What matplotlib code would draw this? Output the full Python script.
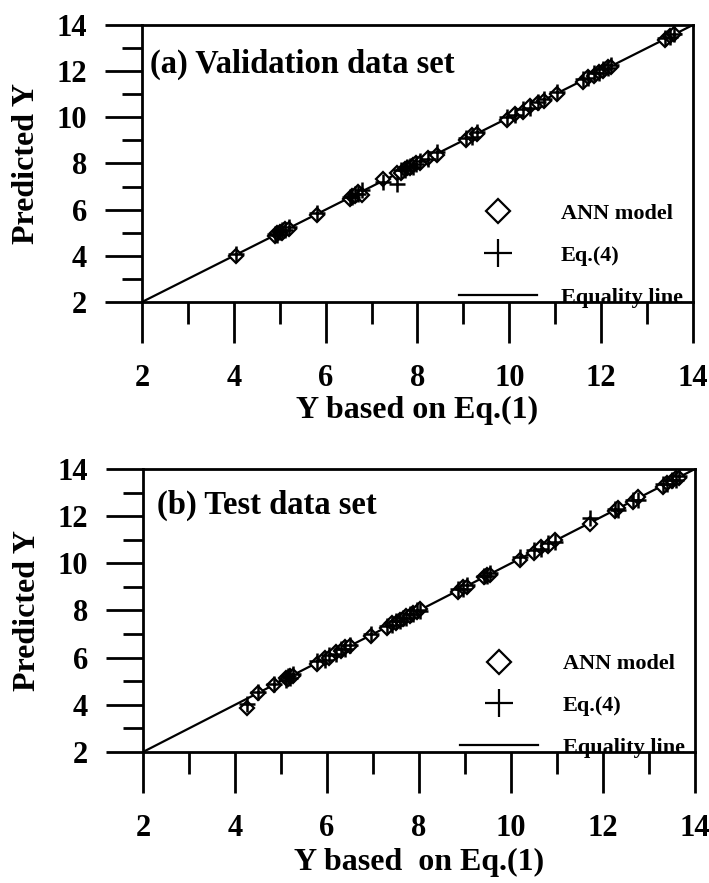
import matplotlib
matplotlib.use('Agg')
import matplotlib.pyplot as plt
from matplotlib.ticker import MultipleLocator
from matplotlib.lines import Line2D

plt.rcParams['font.family'] = ['Liberation Serif', 'DejaVu Serif']
plt.rcParams['font.weight'] = 'bold'
plt.rcParams['axes.labelweight'] = 'bold'

# (a) validation data set
y_val = [4.05, 4.9, 4.95, 5.0, 5.05, 5.12, 5.2, 5.82, 6.52, 6.58, 6.63, 6.7, 6.8,
         7.25, 7.55, 7.65, 7.72, 7.78, 7.84, 7.9, 7.96, 8.05, 8.22, 8.42, 9.05, 9.18,
         9.3, 9.95, 10.12, 10.3, 10.45, 10.62, 10.75, 11.05, 11.6, 11.72, 11.85, 11.95,
         12.05, 12.15, 12.22, 13.4, 13.5, 13.58]
ann_val = [4.0, 4.85, 4.98, 5.02, 5.0, 5.15, 5.18, 5.78, 6.48, 6.6, 6.6, 6.75, 6.62,
           7.32, 7.6, 7.6, 7.75, 7.8, 7.8, 7.95, 8.0, 8.0, 8.25, 8.35, 9.0, 9.22,
           9.28, 9.88, 10.15, 10.25, 10.5, 10.6, 10.7, 11.0, 11.55, 11.75, 11.8, 11.98,
           12.0, 12.18, 12.2, 13.35, 13.52, 13.6]
eq4_val = [4.08, 4.95, 4.9, 5.05, 5.1, 5.1, 5.25, 5.85, 6.55, 6.55, 6.68, 6.68, 6.85,
           7.2, 7.1, 7.7, 7.7, 7.85, 7.88, 7.85, 7.98, 8.1, 8.18, 8.48, 9.1, 9.15,
           9.35, 10.0, 10.08, 10.35, 10.4, 10.68, 10.8, 11.1, 11.65, 11.7, 11.9, 11.92,
           12.1, 12.12, 12.25, 13.45, 13.48, 13.62]

# (b) test data set
y_test = [4.25, 4.5, 4.85, 5.1, 5.15, 5.2, 5.25, 5.78, 5.95, 6.05, 6.2, 6.3, 6.4, 6.5,
          6.95, 7.3, 7.42, 7.5, 7.58, 7.65, 7.72, 7.8, 7.88, 7.95, 8.02, 8.85, 8.95,
          9.05, 9.42, 9.48, 9.55, 10.2, 10.5, 10.65, 10.8, 10.95, 11.72, 12.25, 12.32,
          12.65, 12.75, 13.3, 13.4, 13.5, 13.58, 13.65]
ann_test = [3.85, 4.48, 4.82, 5.12, 5.1, 5.22, 5.2, 5.72, 5.98, 6.0, 6.22, 6.28, 6.45, 6.48,
            6.9, 7.25, 7.45, 7.48, 7.6, 7.62, 7.75, 7.78, 7.9, 7.92, 8.05, 8.8, 8.98,
            9.0, 9.4, 9.5, 9.52, 10.15, 10.45, 10.7, 10.75, 11.0, 11.65, 12.2, 12.35,
            12.6, 12.8, 13.25, 13.42, 13.48, 13.6, 13.62]
eq4_test = [4.05, 4.55, 4.9, 5.05, 5.2, 5.15, 5.3, 5.85, 5.9, 6.1, 6.15, 6.35, 6.35, 6.55,
            7.0, 7.35, 7.38, 7.55, 7.55, 7.7, 7.68, 7.85, 7.85, 8.0, 7.98, 8.9, 8.9,
            9.1, 9.45, 9.45, 9.6, 10.25, 10.55, 10.6, 10.85, 10.9, 11.9, 12.3, 12.28,
            12.7, 12.7, 13.35, 13.38, 13.55, 13.55, 13.7]

equality = [2, 14]

fig = plt.figure(figsize=(7.09, 8.83), dpi=100)
ax1 = fig.add_axes([0.2003, 0.658, 0.777, 0.3137])
ax2 = fig.add_axes([0.2017, 0.1484, 0.7786, 0.3205])

panels = [(ax1, y_val, ann_val, eq4_val, '(a) Validation data set', (0.015, 0.856), -0.39,
           'Y based on Eq.(1)'),
          (ax2, y_test, ann_test, eq4_test, '(b) Test data set', (0.025, 0.873), -0.392,
           'Y based  on Eq.(1)')]

for ax, yx, ann, eq4, title, tpos, xl_y, xlab in panels:
    ax.plot(equality, equality, color='black', lw=1.6)
    ax.plot(yx, ann, linestyle='none', marker='D', ms=7, mfc='white', mec='black', mew=1.6)
    ax.plot(yx, eq4, linestyle='none', marker='+', ms=11, color='black', mew=1.8)
    ax.set_xlim(2, 14)
    ax.set_ylim(2, 14)
    ax.xaxis.set_major_locator(MultipleLocator(2))
    ax.xaxis.set_minor_locator(MultipleLocator(1))
    ax.yaxis.set_major_locator(MultipleLocator(2))
    ax.yaxis.set_minor_locator(MultipleLocator(1))
    ax.tick_params(axis='x', which='major', direction='out', length=29.5, width=2,
                   pad=15, labelsize=22)
    ax.tick_params(axis='x', which='minor', direction='out', length=16, width=2)
    ax.tick_params(axis='y', which='major', direction='out', length=26.5, width=2,
                   pad=13, labelsize=22)
    ax.tick_params(axis='y', which='minor', direction='out', length=14.5, width=2)
    for s in ax.spines.values():
        s.set_linewidth(2)
    ax.text(tpos[0], tpos[1], title, transform=ax.transAxes, fontsize=23.5,
            ha='left', va='center')
    ax.set_xlabel(xlab, fontsize=23, va='center')
    ax.xaxis.set_label_coords(0.5, xl_y)
    ax.set_ylabel('Predicted Y', fontsize=23, va='center')
    ax.yaxis.set_label_coords(-0.209, 0.5)

    handles = [Line2D([], [], linestyle='none', marker='D', ms=12, mfc='white',
                      mec='black', mew=1.6),
               Line2D([], [], linestyle='none', marker='+', ms=20, color='black', mew=1.6),
               Line2D([], [], color='black', lw=1.6)]
    ax.legend(handles, ['ANN model', 'Eq.(4)', 'Equality line'], loc='lower left',
              bbox_to_anchor=(0.575, -0.02), frameon=False, fontsize=16,
              handlelength=3.5, handletextpad=1.1, labelspacing=0.95,
              borderpad=0, borderaxespad=0)

fig.savefig('out.png', dpi=100)
